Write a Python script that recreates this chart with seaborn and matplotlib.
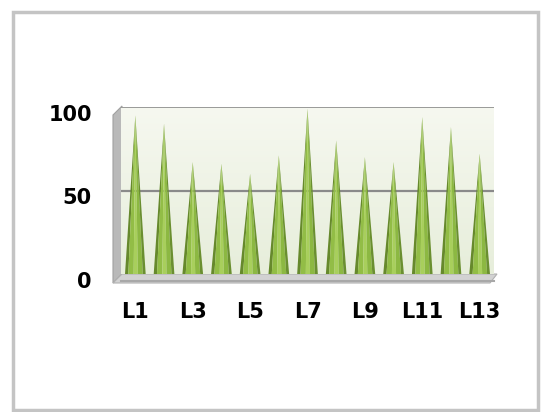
import numpy as np
import pandas as pd
import matplotlib
matplotlib.use("Agg")
import matplotlib.pyplot as plt
import matplotlib.transforms as mtransforms
from matplotlib.patches import Polygon, Rectangle
import seaborn as sns

# data
labels = ["L1", "L2", "L3", "L4", "L5", "L6", "L7", "L8", "L9", "L10", "L11", "L12", "L13"]
values = [95, 90, 67, 66, 60, 71, 99, 80, 70, 67, 94, 88, 72]
y_ticks = [0, 50, 100]

df = pd.DataFrame({"label": labels, "value": values})

sns.set_style("white")
plt.rcParams["font.family"] = ["DejaVu Sans"]
plt.rcParams["font.weight"] = "heavy"

W, H = 544, 412
fig = plt.figure(figsize=(W / 100, H / 100), dpi=100)

# outer chart border
fig.patches.append(Rectangle((13 / W, 2 / H), 525 / W, 398 / H, transform=fig.transFigure,
                             fill=False, edgecolor="#c4c4c4", linewidth=2.5, zorder=0))

def fx(px):
    return px / W

def fy(py):
    return 1 - py / H

# left side wall and floor of the 3d box (decoration)
fig.patches.append(Polygon([(fx(113), fy(283)), (fx(113), fy(115)), (fx(122), fy(106)), (fx(122), fy(274))],
                           closed=True, transform=fig.transFigure, facecolor="#b9b9b9",
                           edgecolor="#a0a0a0", linewidth=0.8, zorder=1))
fig.patches.append(Polygon([(fx(113), fy(283)), (fx(490), fy(283)), (fx(497), fy(274)), (fx(122), fy(274))],
                           closed=True, transform=fig.transFigure, facecolor="#d2d2d2",
                           edgecolor="#b0b0b0", linewidth=0.8, zorder=1))

ax = fig.add_axes([fx(121), fy(274), (494 - 121) / W, (274 - 107) / H])
ax.set_zorder(2)

# pale green back wall gradient
grad = np.linspace(1, 0, 100).reshape(-1, 1)
ax.imshow(grad, extent=[-0.5, len(labels) - 0.5, 0, 100], aspect="auto",
          cmap=matplotlib.colors.LinearSegmentedColormap.from_list("wall", ["#f6f8f0", "#e7eedb"]),
          zorder=0, origin="lower")

sns.barplot(data=df, x="label", y="value", color="#9cc450", width=0.72, ax=ax, zorder=3)

# turn each bar into a shaded cone
shades = [(0.0, 0.16, "#66892c"), (0.16, 0.42, "#92bd46"), (0.42, 0.62, "#a8cf5c"),
          (0.62, 0.86, "#8cb842"), (0.86, 1.0, "#6a8f30")]
for p in list(ax.patches):
    x, w, h = p.get_x(), p.get_width(), p.get_height()
    p.set_visible(False)
    apex = (x + w / 2, h)
    for a, b, c in shades:
        ax.add_patch(Polygon([(x + a * w, 0), (x + b * w, 0), apex], closed=True,
                             facecolor=c, edgecolor="none", zorder=4))

ax.set_xlim(-0.5, len(labels) - 0.5)
ax.set_ylim(0, 100)
ax.set_yticks(y_ticks)
for y in y_ticks[1:]:
    ax.axhline(y, color="#8a8a8a", linewidth=1.6 if y < 100 else 1.2, zorder=1)

ax.set_xticks(range(len(labels)))
ax.set_xticklabels([l if i % 2 == 0 else "" for i, l in enumerate(labels)])
ax.set_xticks(np.arange(-0.5, len(labels), 1), minor=True)
ax.tick_params(axis="x", which="major", length=0, pad=15, labelsize=15, labelcolor="black")
ax.tick_params(axis="x", which="minor", length=6, color="#a8a8a8", width=1.5, direction="out")
ax.tick_params(axis="y", length=0, pad=21, labelsize=15, labelcolor="black")
offset = mtransforms.ScaledTranslation(0, -6 / 100, fig.dpi_scale_trans)
for t in ax.get_yticklabels():
    t.set_transform(t.get_transform() + offset)

ax.set_xlabel("")
ax.set_ylabel("")
for s in ["top", "right", "left"]:
    ax.spines[s].set_visible(False)
ax.spines["bottom"].set_color("#a8a8a8")
ax.spines["bottom"].set_linewidth(1.5)
ax.spines["bottom"].set_position(("outward", 5))

fig.savefig("out.png", dpi=100)
